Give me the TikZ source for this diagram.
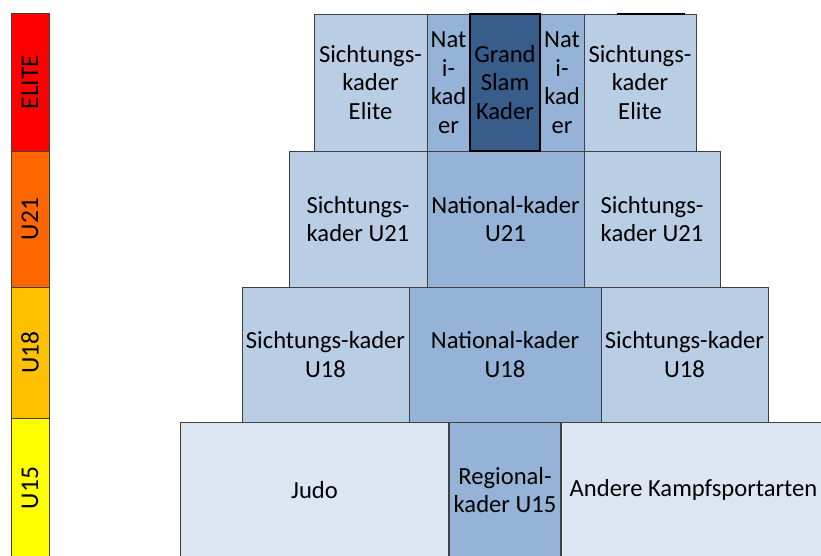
\documentclass[tikz,border=0pt]{standalone}
\usepackage{fontspec}
\setmainfont{Carlito}
\definecolor{lightbox}{HTML}{B9CDE5}
\definecolor{midbox}{HTML}{95B3D7}
\definecolor{darkbox}{HTML}{385D8A}
\definecolor{basebox}{HTML}{DCE6F2}
\definecolor{edge}{HTML}{404040}
\definecolor{barred}{HTML}{FF0000}
\definecolor{barorange}{HTML}{FF6600}
\definecolor{bargold}{HTML}{FFC000}
\definecolor{baryellow}{HTML}{FFFF00}
\tikzset{
  kbox/.style={draw=edge, line width=1pt, rectangle, inner sep=0pt, outer sep=0pt, align=center,
    font=\fontsize{24.6}{28.5}\selectfont, text=black},
  barbox/.style={draw=edge, line width=1pt, rectangle, inner sep=0pt, outer sep=0pt,
    minimum width=38pt},
  bartext/.style={rotate=90, font=\fontsize{25.5}{28}\selectfont, inner sep=0pt}
}
\begin{document}
\begin{tikzpicture}[x=1pt,y=-1pt]
\clip (0,0) rectangle (821,555);
\fill[white] (0,0) rectangle (821,555);

% left age bar
\node[barbox, fill=barred, minimum height=138pt] (bE) at (30,82) {};
\node[barbox, fill=barorange, minimum height=136pt] (bU21) at (30,219) {};
\node[barbox, fill=bargold, minimum height=131pt] (bU18) at (30,352.5) {};
\node[barbox, fill=baryellow, minimum height=140pt] (bU15) at (30,488) {};
\node[bartext] (tE) at (bE.center) {ELITE};
\node[bartext] (tU21) at (bU21.center) {U21};
\node[bartext] (tU18) at (bU18.center) {U18};
\node[bartext] (tU15) at (bU15.center) {U15};

% row 4 (U15)
\node[kbox, fill=basebox, minimum width=269pt, minimum height=136pt] (judo) at (314.5,490) {Judo};
\node[kbox, fill=basebox, minimum width=265pt, minimum height=136pt] (andere) at (693.5,490) {Andere Kampfsportarten};
\node[kbox, fill=midbox, minimum width=112pt, minimum height=136pt, line width=1.3pt] (reg) at (505,490) {Regional-\\kader U15};

% row 3 (U18)
\node[kbox, fill=lightbox, minimum width=167pt, minimum height=135pt] (s18a) at (325.5,354.5) {Sichtungs-kader\\U18};
\node[kbox, fill=lightbox, minimum width=167pt, minimum height=135pt] (s18b) at (684.5,354.5) {Sichtungs-kader\\U18};
\node[kbox, fill=midbox, minimum width=192pt, minimum height=135pt] (n18) at (505,354.5) {National-kader\\U18};

% row 2 (U21)
\node[kbox, fill=lightbox, minimum width=138pt, minimum height=136pt] (s21a) at (358,219) {Sichtungs-\\kader U21};
\node[kbox, fill=lightbox, minimum width=136pt, minimum height=136pt] (s21b) at (652,219) {Sichtungs-\\kader U21};
\node[kbox, fill=midbox, minimum width=157pt, minimum height=136pt] (n21) at (505.5,219) {National-kader\\U21};

% row 1 (Elite)
\node[kbox, fill=lightbox, minimum width=113pt, minimum height=137pt] (seA) at (370.5,82.5) {Sichtungs-\\kader\\Elite};
\node[kbox, fill=lightbox, minimum width=112pt, minimum height=137pt] (seB) at (640,82.5) {Sichtungs-\\kader\\Elite};
\node[kbox, fill=midbox, minimum width=43pt, minimum height=137pt] (natA) at (448.5,82.5) {Nat\\i-\\kad\\er};
\node[kbox, fill=midbox, minimum width=44pt, minimum height=137pt] (natB) at (562,82.5) {Nat\\i-\\kad\\er};
\node[kbox, fill=darkbox, draw=black, line width=2pt, minimum width=70pt, minimum height=137pt] (gs) at (505,82.5) {Grand\\Slam\\Kader};

% dark stroke on top edge of right elite box
\draw[black, line width=2pt] (617,14) -- (685,14);
\end{tikzpicture}
\end{document}
